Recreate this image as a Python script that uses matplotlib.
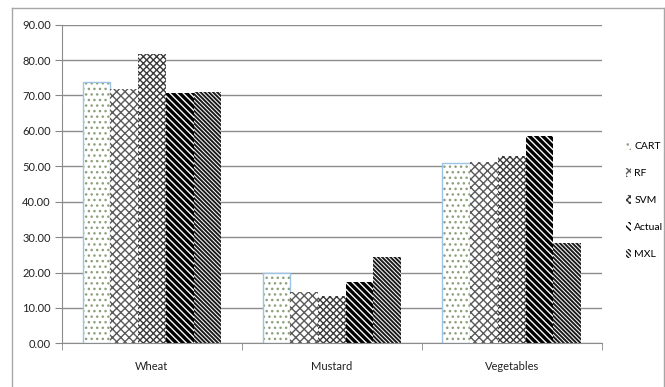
import matplotlib
matplotlib.use('Agg')
import matplotlib.pyplot as plt
import matplotlib.lines as mlines
import numpy as np

plt.rcParams['font.family'] = ['Lato', 'DejaVu Sans']

categories = ['Wheat', 'Mustard', 'Vegetables']
series_names = ['CART', 'RF', 'SVM', 'Actual', 'MXL']
cart = [73.8, 19.8, 50.8]
rf = [71.7, 14.5, 51.2]
svm = [81.7, 13.4, 53.0]
actual = [70.7, 17.2, 58.6]
mxl = [71.0, 24.5, 28.4]
yticks = np.arange(0, 91, 10)

values = [cart, rf, svm, actual, mxl]
hatches = ['...', 'xxxx', 'xxxxx', '\\' * 5, '\\' * 8]
hatch_colors = ['#8ca07a', '#5a5a5a', '#3a3a3a', '#000000', '#1a1a1a']
hatch_widths = [1.0, 1.0, 1.0, 2.4, 1.4]

W, H = 665, 387
fig = plt.figure(figsize=(W / 100, H / 100), dpi=100)

# grey frame around the whole chart (bottom edge runs off the canvas)
frame = dict(color='#a6a6a6', linewidth=1.0, transform=fig.transFigure)
fig.lines.append(mlines.Line2D([12 / W, 12 / W], [0, 1 - 8 / H], **frame))
fig.lines.append(mlines.Line2D([12 / W, 664 / W], [1 - 8 / H, 1 - 8 / H], **frame))
fig.lines.append(mlines.Line2D([664 / W, 664 / W], [0, 1 - 8 / H], **frame))

ax = fig.add_axes([62 / W, (H - 343.3) / H, (601.7 - 62) / W, (343.3 - 24.7) / H])

x = np.arange(len(categories))
width = 0.154
for i, (name, vals) in enumerate(zip(series_names, values)):
    offs = x + (i - 2) * width
    with plt.rc_context({'hatch.linewidth': hatch_widths[i]}):
        bars = ax.bar(offs, vals, width, label=name, color='white',
                      hatch=hatches[i], linewidth=0)
    for b in bars:
        b._hatch_color = matplotlib.colors.to_rgba(hatch_colors[i])
    if i == 0:
        ax.bar(offs, vals, width, fill=False, edgecolor='#9dc3e6', linewidth=1.0)

ax.set_xlim(-0.5, 2.5)
ax.set_ylim(0, 90)
ax.set_yticks(yticks)
ax.set_yticklabels(['%.2f' % v for v in yticks], fontsize=8, color='#222222')
ax.set_xticks(x)
ax.set_xticklabels(categories, fontsize=8, color='#222222')
ax.set_xticks([-0.5, 0.5, 1.5, 2.5], minor=True)
ax.tick_params(axis='x', which='major', length=0, pad=13)
ax.tick_params(axis='x', which='minor', length=5, color='#888888')
ax.tick_params(axis='y', length=5, color='#888888', pad=3)
ax.yaxis.grid(True, color='#8c8c8c', linewidth=1.0)
ax.set_axisbelow(True)
for side in ['top', 'right']:
    ax.spines[side].set_visible(False)
for side in ['left', 'bottom']:
    ax.spines[side].set_color('#8c8c8c')

handles, labels = ax.get_legend_handles_labels()
ax.legend(handles, labels, loc='center left', bbox_to_anchor=(1.035, 0.45),
          frameon=False, fontsize=7.5, handlelength=0.5, handleheight=1.0,
          handletextpad=0.3, labelspacing=1.62, borderpad=0)

fig.savefig('out.png', dpi=100)
